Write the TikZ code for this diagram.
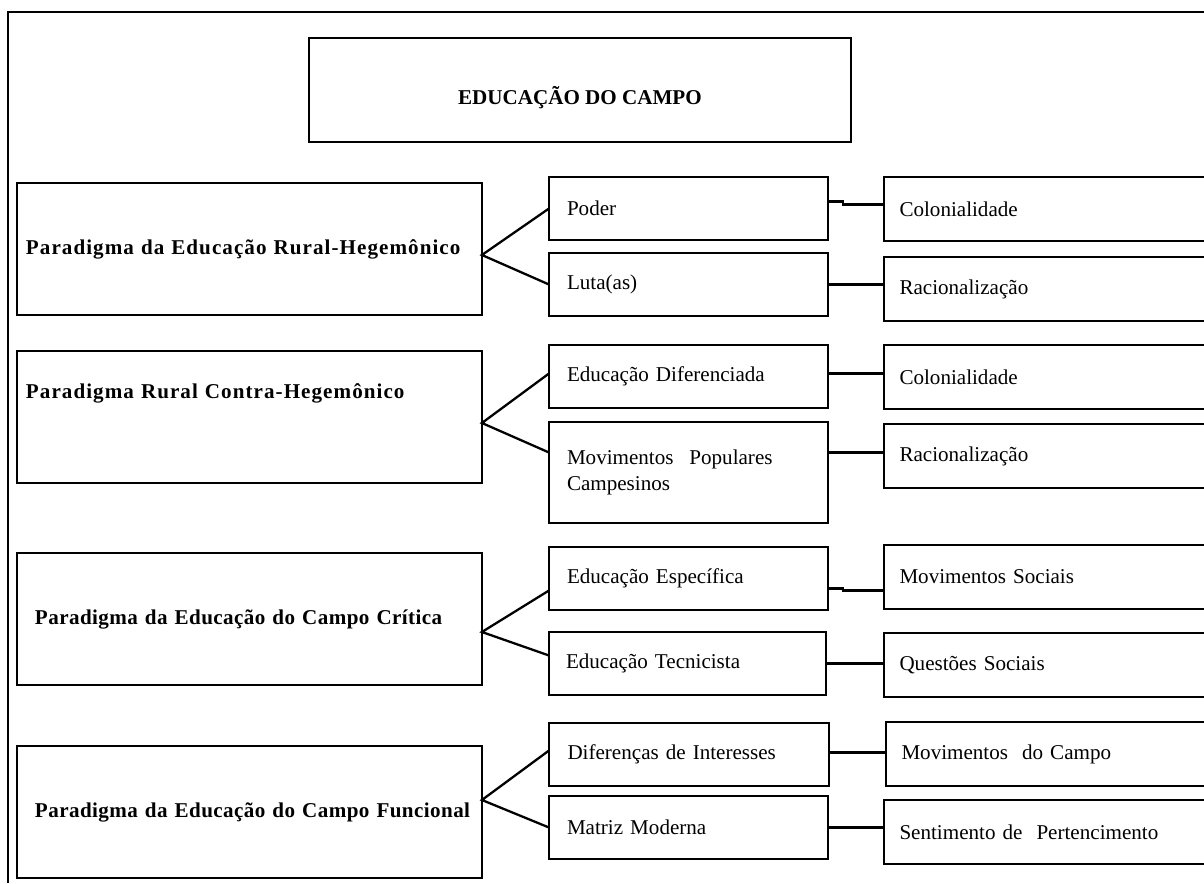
\documentclass[tikz,border=0pt]{standalone}
\usepackage{fontspec}
\setmainfont{Liberation Serif}
\newfontfamily\widefont[LetterSpace=5]{Liberation Serif}
\newfontfamily\halfwidefont[LetterSpace=2]{Liberation Serif}
\usetikzlibrary{positioning,calc}

\tikzset{
  box/.style={draw,line width=1.1pt,inner sep=0pt,outer sep=0pt,anchor=north west},
  parbox/.style={box,minimum width=9.3cm,minimum height=2.64cm,text width=9.2cm,align=left,
    font=\halfwidefont\bfseries\fontsize{12}{14}\selectfont},
  wide/.style={font=\widefont\bfseries\fontsize{12}{14}\selectfont},
  midbox/.style={box,minimum width=5.58cm,minimum height=1.26cm,text width=4.86cm,align=left,
    font=\fontsize{12}{15}\selectfont},
  endbox/.style={box,minimum width=6.62cm,minimum height=1.28cm,text width=6.0cm,align=left,
    font=\fontsize{12}{15}\selectfont},
  link/.style={line width=1.3pt}
}

\begin{document}
\begin{tikzpicture}[x=0.02cm,y=-0.02cm]
        \useasboundingbox (0,0) rectangle (1204,883);
        % outer frame of the table
        \draw[line width=1.1pt] (8,883) |- (1204,12);

        % title
        \node[box,minimum width=10.84cm,minimum height=2.08cm,text height=17pt,text depth=0pt,
          font=\bfseries\fontsize{12}{14}\selectfont] (title) at (309,38) {EDUCAÇÃO DO CAMPO};

        % the four paradigms
        \node[parbox,wide] (par1) at (17,183) {\hspace*{0.13cm}Paradigma da Educação Rural-Hegemônico};
        \node[parbox,wide] (par2) at (17,351) {\hspace*{0.13cm}Paradigma Rural Contra-Hegemônico\\[15pt]~};
        \node[parbox] (par3) at (17,553) {\hspace*{0.31cm}Paradigma da Educação do Campo Crítica};
        \node[parbox] (par4) at (17,746) {\hspace*{0.31cm}Paradigma da Educação do Campo Funcional};

        % middle column
        \node[midbox] (poder) at (549,177) {Poder};
        \node[midbox] (luta)  at (549,253) {Luta(as)};
        \node[midbox] (dif)   at (549,345) {Educação Diferenciada};
        \node[midbox,minimum height=2.02cm] (mov) at (549,422)
          {Movimentos\hspace{0.75em}Populares\\Campesinos};
        \node[midbox] (esp)   at (549,547) {Educação Específica};
        \node[midbox,minimum width=5.54cm] (tec) at (549,632) {Educação Tecnicista};
        \node[midbox,minimum width=5.6cm] (inter) at (549,723) {Diferenças de Interesses};
        \node[midbox] (matriz) at (549,796) {Matriz Moderna};

        % right column
        \node[endbox] (col1) at (884,177) {Colonialidade};
        \node[endbox] (rac1) at (884,257) {Racionalização};
        \node[endbox] (col2) at (884,345) {Colonialidade};
        \node[endbox] (rac2) at (884,424) {Racionalização};
        \node[endbox] (msoc) at (884,545) {Movimentos Sociais};
        \node[endbox] (ques) at (884,633) {Questões Sociais};
        \node[endbox] (mcam) at (886,722) {Movimentos~ do Campo};
        \node[endbox] (sent) at (884,800) {Sentimento de~ Pertencimento};

        % branches from each paradigm
        \draw[link] (poder.west) -- ($(par1.east)+(0,6)$) -- (luta.west);
        \draw[link] ($(dif.west)+(0,-3)$) -- ($(par2.east)+(0,6)$) -- ($(mov.west)+(0,-20)$);
        \draw[link] ($(esp.west)+(0,12)$) -- ($(par3.east)+(0,13)$) -- ($(tec.west)+(0,-8)$);
        \draw[link] ($(inter.west)+(0,-4)$) -- ($(par4.east)+(0,-12)$) -- (matriz.west);

        % middle to right
        \coordinate (r1) at ($(rac1.west)+(0,-4.5)$);
        \coordinate (r2) at ($(rac2.west)+(0,-3.5)$);
        \coordinate (q1) at ($(ques.west)+(0,-1.5)$);
        \coordinate (s1) at ($(sent.west)+(0,-4.5)$);
        \draw[link] ($(poder.east)+(0,-7)$) -- ++(15,0) |- ($(col1.west)+(0,-4.5)$);
        \draw[link] (r1 -| luta.east) -- (r1);
        \draw[link] ($(dif.east)+(0,-3)$) -- ($(col2.west)+(0,-3.5)$);
        \draw[link] (r2 -| mov.east) -- (r2);
        \draw[link] ($(esp.east)+(0,10)$) -- ++(15,0) |- ($(msoc.west)+(0,13.5)$);
        \draw[link] (q1 -| tec.east) -- (q1);
        \draw[link] ($(inter.east)+(0,-2)$) -- ($(mcam.west)+(0,-1.5)$);
        \draw[link] (s1 -| matriz.east) -- (s1);
\end{tikzpicture}
\end{document}
